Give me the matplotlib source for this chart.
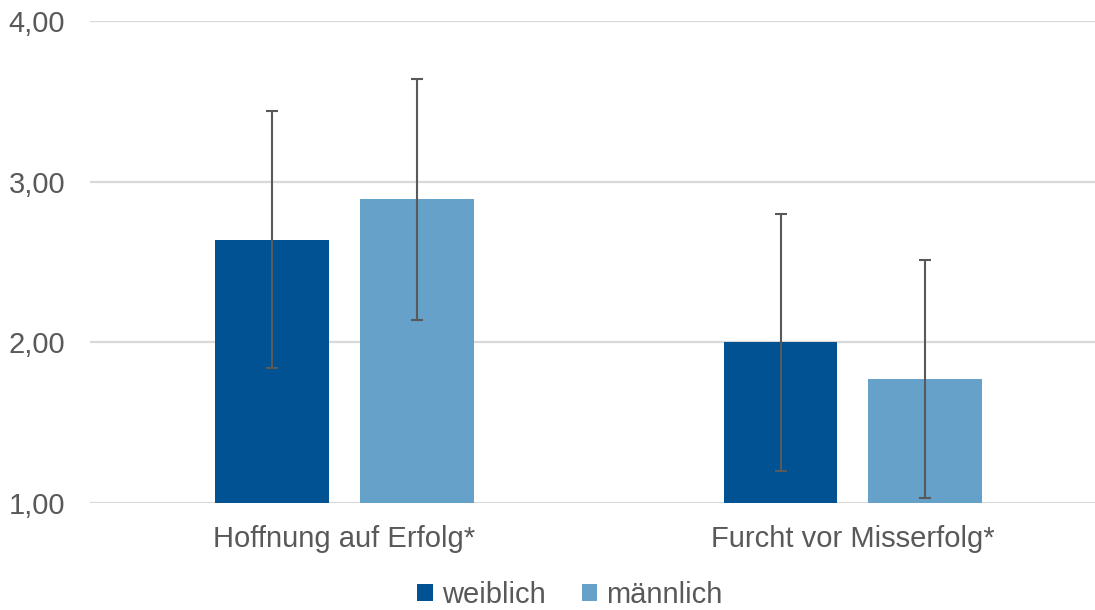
import matplotlib
matplotlib.use("Agg")
import matplotlib.pyplot as plt
import numpy as np
from matplotlib.patches import Patch

plt.rcParams['font.family'] = ['Liberation Sans', 'DejaVu Sans']

categories = ["Hoffnung auf Erfolg*", "Furcht vor Misserfolg*"]
series_names = ["weiblich", "männlich"]
weiblich = [2.64, 2.00]
maennlich = [2.89, 1.77]
weiblich_sd = [0.80, 0.80]
maennlich_sd = [0.75, 0.74]
yticks = [1.0, 2.0, 3.0, 4.0]
ytick_labels = ["1,00", "2,00", "3,00", "4,00"]

c_dark = "#005293"
c_light = "#65A1C9"
txt = "#595959"
grid = "#D9D9D9"
fs = 21

fig = plt.figure(figsize=(10.95, 6.10), dpi=100)
ax = fig.add_axes([90/1095, 1 - 502.7/610, (1095-90)/1095, (502.7-21.4)/610])

x = np.arange(len(categories))
w = 0.224
off = 0.1425
ax.bar(x - off, np.array(weiblich) - 1.0, w, bottom=1.0, color=c_dark, zorder=2)
ax.bar(x + off, np.array(maennlich) - 1.0, w, bottom=1.0, color=c_light, zorder=2)
ax.errorbar(x - off, weiblich, yerr=weiblich_sd, fmt='none', ecolor=txt,
            elinewidth=1.5, capsize=4.3, capthick=1.5, zorder=3)
ax.errorbar(x + off, maennlich, yerr=maennlich_sd, fmt='none', ecolor=txt,
            elinewidth=1.5, capsize=4.3, capthick=1.5, zorder=3)

ax.set_xlim(-0.5005, 1.476)
ax.set_ylim(1.0, 4.0)
ax.set_yticks(yticks)
ax.set_yticklabels(ytick_labels)
ax.set_xticks(x)
ax.set_xticklabels(categories)
ax.yaxis.grid(True, color=grid, linewidth=1.6, zorder=0)
ax.set_axisbelow(True)
for s in ax.spines.values():
    s.set_visible(False)
ax.tick_params(axis='both', length=0, colors=txt, labelsize=fs)
ax.tick_params(axis='y', pad=18)
ax.tick_params(axis='x', pad=16)

handles = [Patch(facecolor=c_dark, edgecolor='none'), Patch(facecolor=c_light, edgecolor='none')]
leg = fig.legend(handles, series_names, loc='center', bbox_to_anchor=(570/1095, 1 - 595/610),
                 ncol=2, frameon=False, fontsize=fs, handlelength=0.53, handleheight=0.53,
                 handletextpad=0.3, columnspacing=1.25, labelcolor=txt)

fig.savefig("out.png", dpi=100)
